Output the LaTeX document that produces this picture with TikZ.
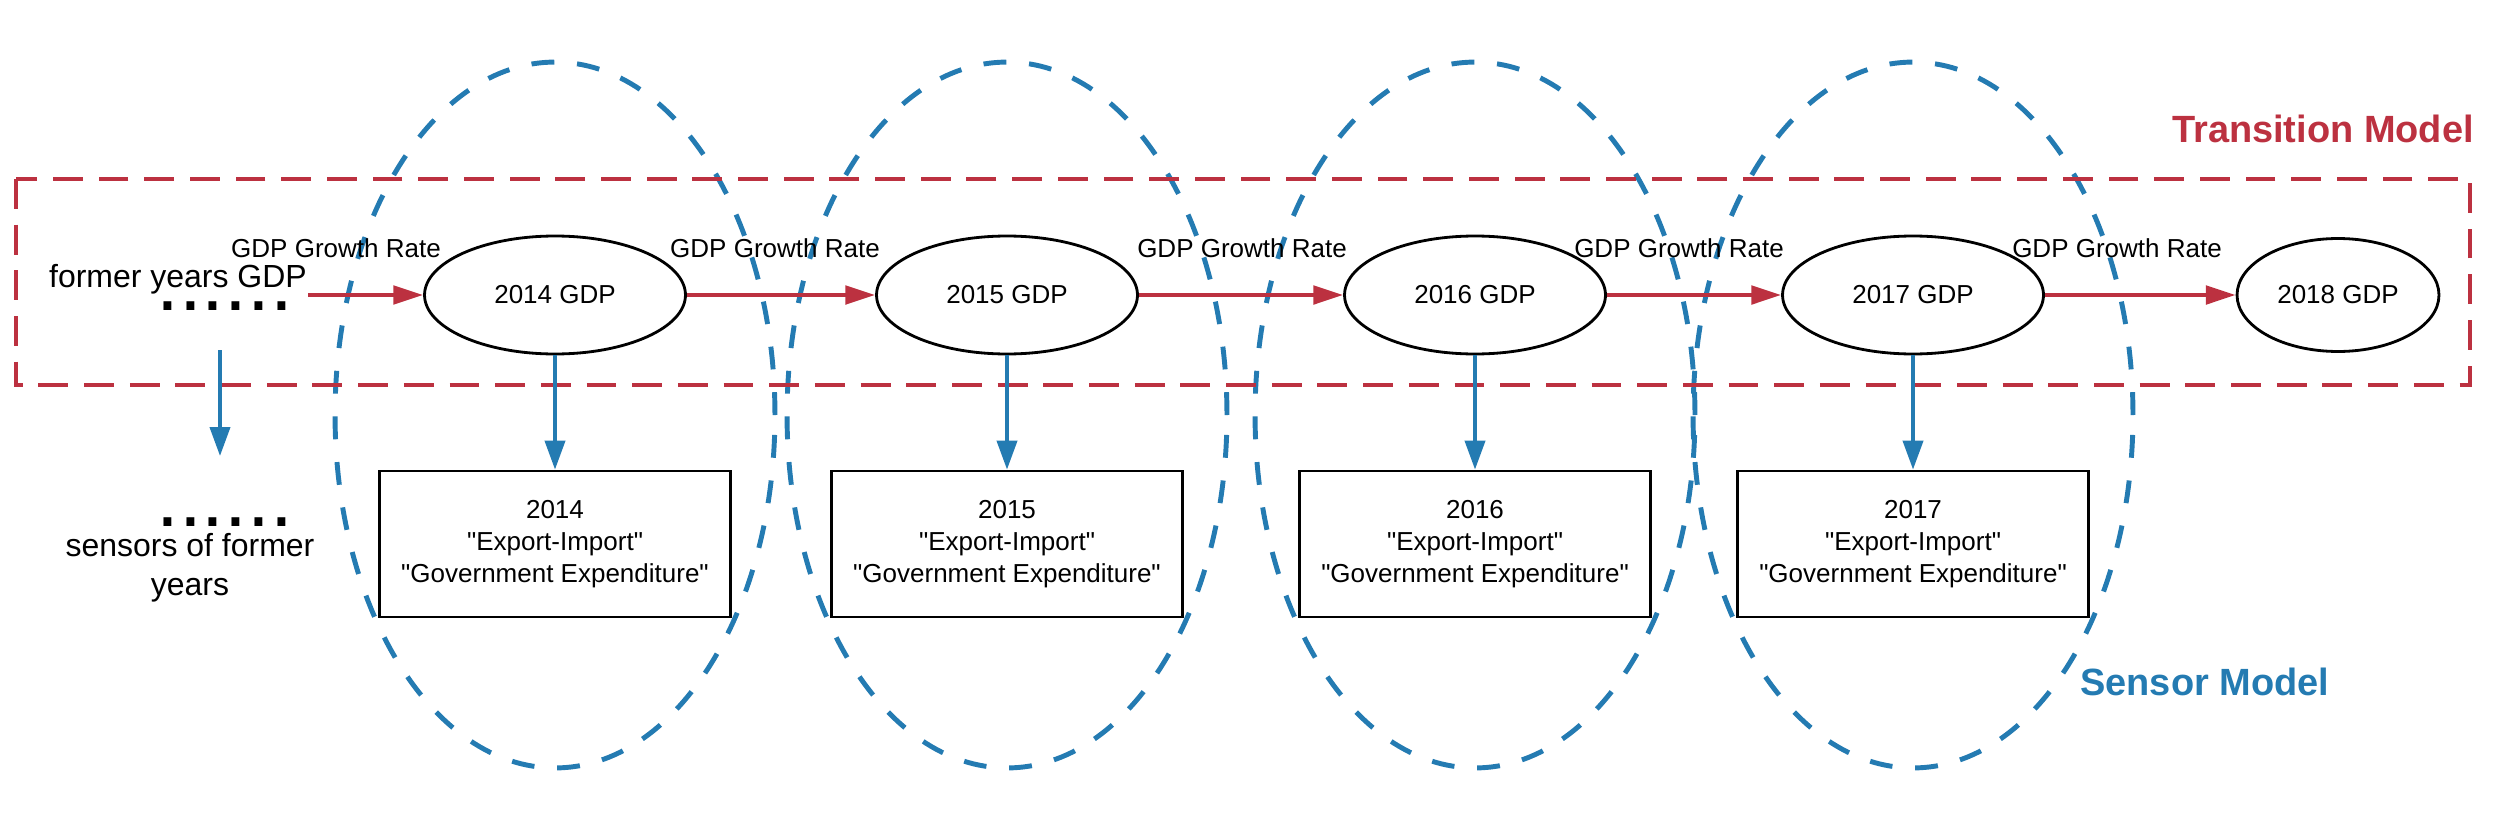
\documentclass[tikz,border=0pt]{standalone}
\usepackage{fontspec}
\setmainfont{Liberation Sans}[Ligatures=TeXOff]
\usetikzlibrary{shapes,arrows.meta,positioning}
\definecolor{tred}{RGB}{188,49,64}
\definecolor{sblue}{RGB}{36,123,178}

\begin{document}
\begin{tikzpicture}[x=0.02cm, y=-0.02cm]
% Define node styles
\tikzstyle{gdpnode} = [ellipse, draw, line width=1.6pt, fill=white, minimum width=5.22cm, minimum height=2.36cm, font=\fontsize{14.8}{17.8}\selectfont]
\tikzstyle{sensorbox} = [rectangle, draw, line width=1.6pt, minimum width=7.02cm, minimum height=2.92cm, align=center, font=\fontsize{14.8}{18}\selectfont]
\tikzstyle{sensorring} = [ellipse, draw=sblue, line width=2.8pt, dash pattern=on 13pt off 13pt, minimum width=8.8cm, minimum height=14.12cm]
\tikzstyle{ratelabel} = [anchor=base, inner sep=0pt, font=\fontsize{14.8}{17.8}\selectfont]
\tikzstyle{dotrow} = [anchor=base west, inner sep=0pt, font=\fontsize{46.7}{50}\selectfont]
\tikzstyle{transarrow} = [tred, line width=2.3pt, -{Triangle[length=17pt,width=10.5pt]}]
\tikzstyle{sensorarrow} = [sblue, line width=2.2pt, -{Triangle[length=16.5pt,width=11.4pt]}]

\useasboundingbox (0,0) rectangle (2500,821);

% Sensor model rings
\node[sensorring] (ring14) at (555,415) {};
\node[sensorring] (ring15) at (1007,415) {};
\node[sensorring] (ring16) at (1475,415) {};
\node[sensorring] (ring17) at (1913,415) {};

% Transition model frame
\draw[tred, line width=2.8pt, dash pattern=on 17pt off 9pt] (16,179) rectangle (2470,385);
\node[anchor=base east, inner sep=0pt, text=tred, font=\bfseries\fontsize{21.6}{26}\selectfont] (transtitle) at (2474,142) {Transition Model};
\node[anchor=base west, inner sep=0pt, text=sblue, font=\bfseries\fontsize{21.6}{26}\selectfont] (senstitle) at (2080,695) {Sensor Model};

% Draw nodes
\node[anchor=base, inner sep=0pt, font=\fontsize{18.2}{22}\selectfont] (former) at (178,287) {former years GDP};
\node[dotrow] (dotsgdp) at (156,310) {\smash{......}};
\node[dotrow] (dotssens) at (156,526) {\smash{......}};
\node[align=center, inner sep=0pt, font=\fontsize{18.2}{22.2}\selectfont] (formersens) at (190,568) {sensors of former\\years};

\node[gdpnode] (gdp14) at (555,295) {2014 GDP};
\node[gdpnode] (gdp15) at (1007,295) {2015 GDP};
\node[gdpnode] (gdp16) at (1475,295) {2016 GDP};
\node[gdpnode] (gdp17) at (1913,295) {2017 GDP};
\node[gdpnode, minimum width=4.04cm, minimum height=2.26cm] (gdp18) at (2338,295) {2018 GDP};

\node[sensorbox] (box14) at (555,544) {2014\\"Export-Import"\\"Government Expenditure"};
\node[sensorbox] (box15) at (1007,544) {2015\\"Export-Import"\\"Government Expenditure"};
\node[sensorbox] (box16) at (1475,544) {2016\\"Export-Import"\\"Government Expenditure"};
\node[sensorbox] (box17) at (1913,544) {2017\\"Export-Import"\\"Government Expenditure"};

\node[ratelabel] (rate14) at (336,257) {GDP Growth Rate};
\node[ratelabel] (rate15) at (775,257) {GDP Growth Rate};
\node[ratelabel] (rate16) at (1242,257) {GDP Growth Rate};
\node[ratelabel] (rate17) at (1679,257) {GDP Growth Rate};
\node[ratelabel] (rate18) at (2117,257) {GDP Growth Rate};

\coordinate (fgdp) at (308,295);
\coordinate (fsenstop) at (220,350);
\coordinate (fsensend) at (220,456);

% Draw edges
\draw[transarrow] (fgdp) -- (gdp14);
\draw[transarrow] (gdp14) -- (gdp15);
\draw[transarrow] (gdp15) -- (gdp16);
\draw[transarrow] (gdp16) -- (gdp17);
\draw[transarrow] (gdp17) -- (gdp18);

\draw[sensorarrow] (fsenstop) -- (fsensend);
\draw[sensorarrow] (gdp14) -- (box14);
\draw[sensorarrow] (gdp15) -- (box15);
\draw[sensorarrow] (gdp16) -- (box16);
\draw[sensorarrow] (gdp17) -- (box17);
\end{tikzpicture}
\end{document}
